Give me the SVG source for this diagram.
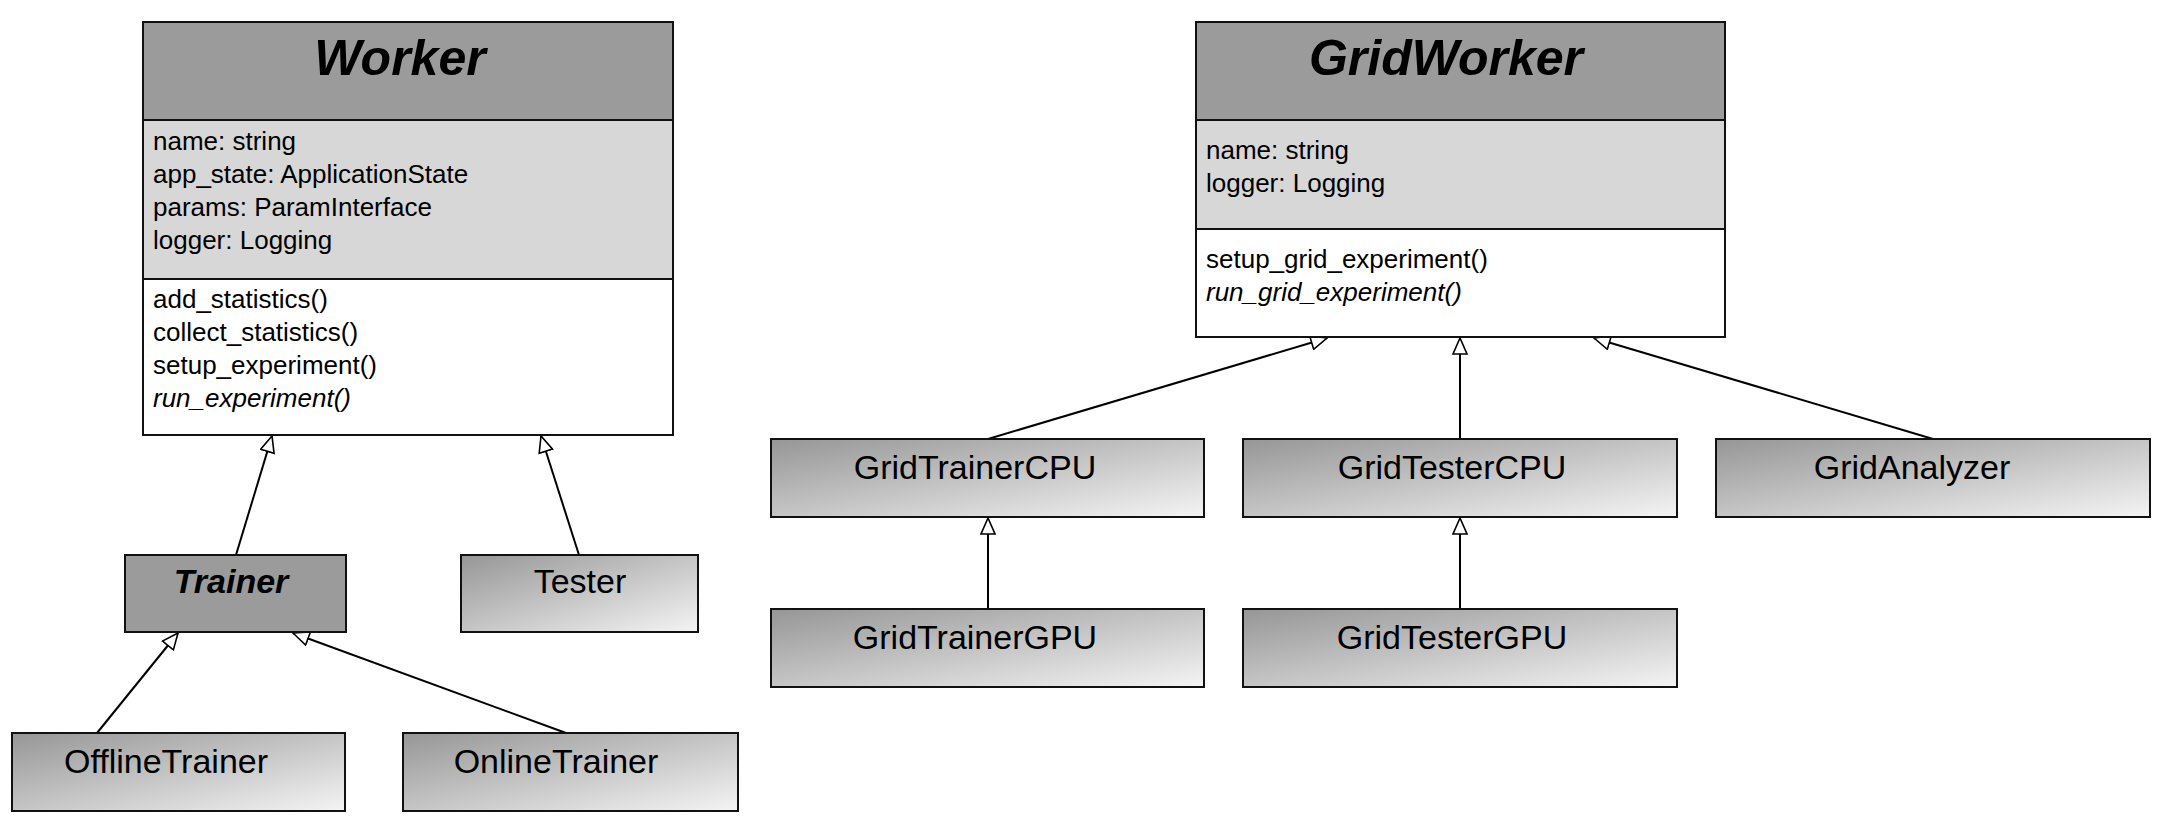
<svg xmlns="http://www.w3.org/2000/svg" width="2166" height="827" viewBox="0 0 2166 827">
<defs>
<style>
.box{stroke:#111;stroke-width:2}
.hdr{fill:#9b9b9b}
.att{fill:#d7d7d7}
.mth{fill:#ffffff}
.grad{fill:url(#g)}
.t{font-family:"Liberation Sans",Arial,sans-serif;fill:#000}
.ttl{font-size:50px;font-weight:bold;font-style:italic;text-anchor:middle}
.mem{font-size:26px}
.it{font-style:italic}
.lbl{font-size:34px;text-anchor:middle}
.abs{font-size:34px;font-weight:bold;font-style:italic;text-anchor:middle}
.c{stroke:#000;stroke-width:2;fill:none;marker-end:url(#tri)}
</style>
<linearGradient id="g" x1="0" y1="0" x2="1" y2="1">
<stop offset="0" stop-color="#969696"/>
<stop offset="1" stop-color="#f4f4f4"/>
</linearGradient>
<marker id="tri" markerUnits="userSpaceOnUse" markerWidth="18" markerHeight="16" viewBox="0 0 18 16" refX="17" refY="8" orient="auto">
<path d="M17,8 L1,1 L1,15 Z" fill="#fff" stroke="#000" stroke-width="1.6"/>
</marker>
</defs>
<rect width="2166" height="827" fill="#fff"/>

<g id="connectors">
<line class="c" x1="236" y1="555" x2="272" y2="436"/>
<line class="c" x1="579" y1="555" x2="541" y2="436"/>
<line class="c" x1="97" y1="733" x2="178" y2="633"/>
<line class="c" x1="566" y1="733" x2="293" y2="633"/>
<line class="c" x1="988" y1="439" x2="1327" y2="338"/>
<line class="c" x1="1460" y1="439" x2="1460" y2="338"/>
<line class="c" x1="1933" y1="439" x2="1594" y2="338"/>
<line class="c" x1="988" y1="609" x2="988" y2="518"/>
<line class="c" x1="1460" y1="609" x2="1460" y2="518"/>
</g>

<g id="Worker">
<rect class="box hdr" x="143" y="22" width="530" height="98"/>
<rect class="box att" x="143" y="120" width="530" height="159"/>
<rect class="box mth" x="143" y="279" width="530" height="156"/>
<text class="t ttl" x="400" y="75">Worker</text>
<text class="t mem" x="153" y="150">name: string</text>
<text class="t mem" x="153" y="183">app_state: ApplicationState</text>
<text class="t mem" x="153" y="216">params: ParamInterface</text>
<text class="t mem" x="153" y="249">logger: Logging</text>
<text class="t mem" x="153" y="308">add_statistics()</text>
<text class="t mem" x="153" y="341">collect_statistics()</text>
<text class="t mem" x="153" y="374">setup_experiment()</text>
<text class="t mem it" x="153" y="407">run_experiment()</text>
</g>

<g id="GridWorker">
<rect class="box hdr" x="1196" y="22" width="529" height="98"/>
<rect class="box att" x="1196" y="120" width="529" height="109"/>
<rect class="box mth" x="1196" y="229" width="529" height="108"/>
<text class="t ttl" x="1446" y="75">GridWorker</text>
<text class="t mem" x="1206" y="159">name: string</text>
<text class="t mem" x="1206" y="192">logger: Logging</text>
<text class="t mem" x="1206" y="268">setup_grid_experiment()</text>
<text class="t mem it" x="1206" y="301">run_grid_experiment()</text>
</g>

<g id="Trainer">
<rect class="box hdr" x="125" y="555" width="221" height="77"/>
<text class="t abs" x="231" y="593">Trainer</text>
</g>
<g id="Tester">
<rect class="box grad" x="461" y="555" width="237" height="77"/>
<text class="t lbl" x="580" y="593">Tester</text>
</g>
<g id="OfflineTrainer">
<rect class="box grad" x="12" y="733" width="333" height="78"/>
<text class="t lbl" x="166" y="773">OfflineTrainer</text>
</g>
<g id="OnlineTrainer">
<rect class="box grad" x="403" y="733" width="335" height="78"/>
<text class="t lbl" x="556" y="773">OnlineTrainer</text>
</g>
<g id="GridTrainerCPU">
<rect class="box grad" x="771" y="439" width="433" height="78"/>
<text class="t lbl" x="975" y="479">GridTrainerCPU</text>
</g>
<g id="GridTesterCPU">
<rect class="box grad" x="1243" y="439" width="434" height="78"/>
<text class="t lbl" x="1452" y="479">GridTesterCPU</text>
</g>
<g id="GridAnalyzer">
<rect class="box grad" x="1716" y="439" width="434" height="78"/>
<text class="t lbl" x="1912" y="479">GridAnalyzer</text>
</g>
<g id="GridTrainerGPU">
<rect class="box grad" x="771" y="609" width="433" height="78"/>
<text class="t lbl" x="975" y="649">GridTrainerGPU</text>
</g>
<g id="GridTesterGPU">
<rect class="box grad" x="1243" y="609" width="434" height="78"/>
<text class="t lbl" x="1452" y="649">GridTesterGPU</text>
</g>
</svg>
